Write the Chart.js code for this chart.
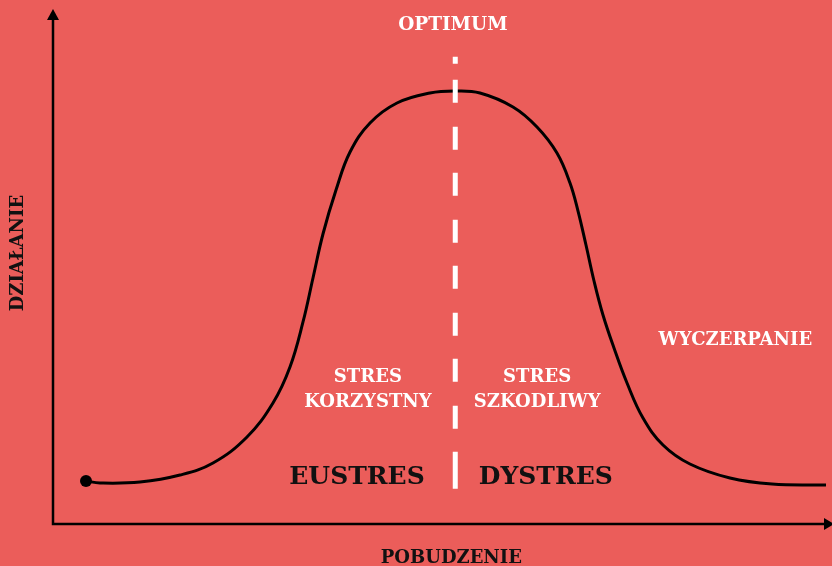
<!DOCTYPE html>
<html>
<head>
<meta charset="utf-8">
<script src="https://cdn.jsdelivr.net/npm/chart.js@4.4.1/dist/chart.umd.min.js"></script>
<style>
  html, body { margin: 0; padding: 0; background: #EB5D5A; }
  #wrap { width: 832px; height: 566px; }
</style>
</head>
<body>
<div id="wrap"><canvas id="c" width="832" height="566"></canvas></div>
<script>
// ---- data ----
const pobudzenie = [4.36, 6.15, 11.28, 16.41, 20.64, 25.00, 28.33, 30.51, 32.18, 33.46, 34.74, 36.41, 38.21, 40.77, 44.23, 48.46, 51.67,
                    54.87, 59.10, 62.18, 64.74, 66.41, 67.44, 68.46, 69.49, 70.64, 72.05, 73.72, 75.77, 78.33, 81.79, 86.92, 92.31, 99.23];
const dzialanie  = [8.37, 7.98, 8.17, 9.53, 11.87, 16.93, 23.54, 30.54, 39.30, 47.86, 56.42, 64.98, 72.37, 78.02, 81.91, 83.85, 84.24,
                    83.85, 81.13, 77.24, 72.18, 66.34, 60.89, 54.28, 47.28, 40.66, 34.24, 27.43, 20.62, 15.37, 11.67, 8.95, 7.78, 7.59];
const optimumX = 51.7;
const optimumLine = [90.9, 6.6];
const axisTitles = ["POBUDZENIE", "DZIAŁANIE"];
const labelTexts = ["OPTIMUM", ["STRES", "KORZYSTNY"], ["STRES", "SZKODLIWY"], "EUSTRES", "DYSTRES", "WYCZERPANIE"];

// ---- label placement (data units) & styles ----
const FONT = '"DejaVu Serif", "Liberation Serif", serif';
const labelLayout = [
  { x: 51.4, y: 97.1, size: 18.5, color: '#ffffff' },
  { x: 40.5, y: 26.1, size: 18, color: '#ffffff', lh: 25 },
  { x: 62.2, y: 26.1, size: 18, color: '#ffffff', lh: 25 },
  { x: 39.1, y: 8.95, size: 25, color: '#111111' },
  { x: 63.3, y: 8.95, size: 25, color: '#111111' },
  { x: 87.6, y: 35.8, size: 18, color: '#ffffff' }
];

const axesPlugin = {
  id: 'axesArrows',
  beforeDatasetsDraw(chart) {
    const ctx = chart.ctx;
    const xs = chart.scales.x, ys = chart.scales.y;
    const x0 = xs.left + 1, y0 = ys.bottom;
    ctx.save();
    ctx.strokeStyle = '#000'; ctx.fillStyle = '#000'; ctx.lineWidth = 2.5;
    ctx.beginPath();
    ctx.moveTo(x0, y0 + 1.2); ctx.lineTo(x0, ys.top + 8);
    ctx.moveTo(x0 - 1.2, y0); ctx.lineTo(xs.right - 6, y0);
    ctx.stroke();
    ctx.beginPath();
    ctx.moveTo(x0, ys.top - 1); ctx.lineTo(x0 - 6, ys.top + 10); ctx.lineTo(x0 + 6, ys.top + 10); ctx.closePath();
    ctx.fill();
    ctx.beginPath();
    ctx.moveTo(xs.right + 2, y0); ctx.lineTo(xs.right - 8, y0 - 6); ctx.lineTo(xs.right - 8, y0 + 6); ctx.closePath();
    ctx.fill();
    ctx.restore();
  },
  afterDatasetsDraw(chart) {
    const ctx = chart.ctx;
    const xs = chart.scales.x, ys = chart.scales.y;
    ctx.save();
    ctx.textAlign = 'center';
    ctx.textBaseline = 'middle';
    labelTexts.forEach((t, i) => {
      const L = labelLayout[i];
      ctx.font = 'bold ' + L.size + 'px ' + FONT;
      ctx.fillStyle = L.color;
      const px = xs.getPixelForValue(L.x), py = ys.getPixelForValue(L.y);
      const lines = Array.isArray(t) ? t : [t];
      const lh = L.lh || L.size;
      lines.forEach((ln, k) => {
        ctx.fillText(ln, px, py + (k - (lines.length - 1) / 2) * lh);
      });
    });
    // axis titles
    ctx.fillStyle = '#111111';
    ctx.font = 'bold 18px ' + FONT;
    ctx.fillText(axisTitles[0], xs.getPixelForValue(51.2), ys.bottom + 34);
    ctx.translate(xs.left - 34, ys.getPixelForValue(52.7));
    ctx.rotate(-Math.PI / 2);
    ctx.fillText(axisTitles[1], 0, 0);
    ctx.restore();
  }
};

new Chart(document.getElementById('c'), {
  type: 'line',
  data: {
    datasets: [
      {
        label: 'optimum',
        data: optimumLine.map(v => ({ x: optimumX, y: v })),
        borderColor: '#ffffff',
        borderWidth: 5,
        borderCapStyle: 'butt',
        borderDash: [7, 16, 23, 24, 23, 23, 23, 24, 23, 23, 23, 24, 23, 23, 23, 24, 23, 23, 37, 100],
        pointRadius: 0,
        order: 0
      },
      {
        label: 'działanie',
        data: pobudzenie.map((x, i) => ({ x: x, y: dzialanie[i] })),
        borderColor: '#000000',
        borderWidth: 3,
        tension: 0.4,
        pointRadius: ctx => ctx.dataIndex === 0 ? 6 : 0,
        pointBackgroundColor: '#000000',
        pointBorderWidth: 0,
        order: 1
      }
    ]
  },
  options: {
    responsive: false,
    animation: false,
    layout: { autoPadding: false, padding: { left: 52, right: 0, top: 10, bottom: 42 } },
    plugins: { legend: { display: false }, tooltip: { enabled: false } },
    scales: {
      x: { type: 'linear', min: 0, max: 100, display: false },
      y: { type: 'linear', min: 0, max: 100, display: false }
    },
    elements: { line: { fill: false } }
  },
  plugins: [axesPlugin]
});
</script>
</body>
</html>
